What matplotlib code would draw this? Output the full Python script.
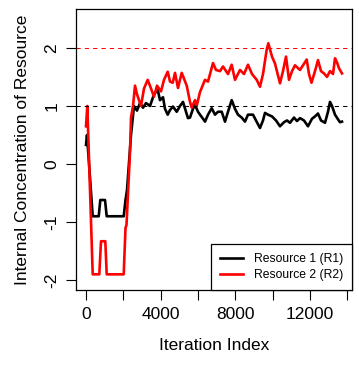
import matplotlib
matplotlib.use("Agg")
import matplotlib.pyplot as plt

# Resource 1 (R1) trace
r1_iter = [0, 54, 359, 680, 766, 1018, 1109, 2020, 2116, 2196, 2287, 2411, 2571,
           2732, 2893, 3053, 3214, 3429, 3643, 3841, 3964, 4125, 4232, 4377, 4500,
           4661, 4859, 5036, 5196, 5357, 5464, 5571, 5732, 5839, 6000, 6107, 6268,
           6375, 6536, 6734, 6911, 7071, 7270, 7446, 7607, 7805, 7982, 8143, 8341,
           8518, 8679, 8946, 9107, 9321, 9482, 9589, 9750, 9964, 10179, 10393, 10607,
           10768, 10928, 11143, 11303, 11464, 11678, 11893, 12107, 12268, 12428,
           12589, 12803, 12964, 13071, 13178, 13339, 13500, 13607, 13714]
r1_conc = [0.33, 0.5, -0.9, -0.9, -0.62, -0.62, -0.9, -0.9, -0.62, -0.45, -0.05,
           0.5, 1.0, 0.92, 1.05, 0.97, 1.05, 1.0, 1.2, 1.28, 1.1, 1.15, 0.95, 0.85,
           0.93, 0.99, 0.9, 1.0, 1.07, 0.9, 0.79, 0.8, 0.95, 1.02, 0.9, 0.85, 0.78,
           0.73, 0.85, 0.96, 0.85, 0.9, 0.9, 0.73, 0.9, 1.1, 0.95, 0.85, 0.8, 0.73,
           0.85, 0.85, 0.75, 0.62, 0.75, 0.88, 0.85, 0.82, 0.75, 0.65, 0.72, 0.75,
           0.71, 0.8, 0.74, 0.79, 0.75, 0.65, 0.78, 0.82, 0.87, 0.75, 0.71, 0.9,
           1.07, 1.0, 0.85, 0.77, 0.72, 0.73]

# Resource 2 (R2) trace
r2_iter = [0, 70, 359, 712, 804, 1034, 1109, 2020, 2116, 2170, 2250, 2357, 2411,
           2518, 2625, 2732, 2946, 3107, 3305, 3482, 3643, 3804, 4018, 4178, 4377,
           4500, 4645, 4768, 4928, 5127, 5395, 5571, 5663, 5839, 5930, 6107, 6375,
           6536, 6803, 6964, 7178, 7339, 7607, 7805, 7982, 8250, 8464, 8679, 8893,
           9145, 9321, 9482, 9680, 9766, 9964, 10125, 10393, 10553, 10714, 10875,
           11036, 11196, 11464, 11625, 11823, 11946, 12080, 12268, 12428, 12589,
           12750, 12911, 13071, 13232, 13339, 13446, 13553, 13714]
r2_conc = [0.65, 1.0, -1.9, -1.9, -1.33, -1.33, -1.9, -1.9, -1.1, -1.05, -0.5, 0.2,
           0.8, 1.0, 1.35, 1.2, 1.0, 1.3, 1.45, 1.3, 1.16, 1.35, 1.25, 1.45, 1.59,
           1.42, 1.4, 1.57, 1.31, 1.57, 1.35, 1.07, 0.97, 1.1, 1.0, 1.24, 1.45, 1.42,
           1.74, 1.62, 1.6, 1.68, 1.55, 1.71, 1.45, 1.62, 1.55, 1.71, 1.55, 1.45,
           1.33, 1.55, 1.97, 2.08, 1.85, 1.73, 1.39, 1.6, 1.85, 1.45, 1.6, 1.7, 1.62,
           1.7, 1.8, 1.55, 1.4, 1.6, 1.79, 1.6, 1.56, 1.5, 1.6, 1.55, 1.82, 1.75,
           1.65, 1.56]

ref_levels = [1, 2]
ref_colors = ["black", "red"]
x_ticks = [0, 2000, 4000, 6000, 8000, 10000, 12000, 14000]
x_labels = ["0", "", "4000", "", "8000", "", "12000", ""]
y_ticks = [-2, -1, 0, 1, 2]

plt.rcParams["font.family"] = ["Liberation Sans", "DejaVu Sans"]

fig = plt.figure(figsize=(3.59, 3.68), dpi=100)
ax = fig.add_axes([76 / 359, 1 - 290 / 368, 276 / 359, 281 / 368])

ax.plot(r1_iter, r1_conc, color="black", lw=1.9, label="Resource 1 (R1)")
ax.plot(r2_iter, r2_conc, color="red", lw=1.9, label="Resource 2 (R2)")
for lvl, col in zip(ref_levels, ref_colors):
    ax.axhline(lvl, color=col, lw=0.75, dashes=(4, 4))

ax.set_xlim(-536, 14250)
ax.set_ylim(-2.17, 2.67)
ax.set_xticks(x_ticks)
ax.set_xticklabels(x_labels)
ax.set_yticks(y_ticks)
ax.set_yticklabels([str(v) for v in y_ticks], rotation=90, va="center")
ax.tick_params(direction="out", length=7, width=0.8, labelsize=12.5, pad=5)
for sp in ax.spines.values():
    sp.set_linewidth(0.9)

ax.set_xlabel("Iteration Index", fontsize=12.5, labelpad=12)
ax.set_ylabel("Internal Concentration of Resource", fontsize=12.5, labelpad=10)

leg = ax.legend(loc="lower right", borderaxespad=0, fancybox=False, fontsize=8.7,
                handlelength=1.95, handletextpad=0.85, framealpha=1,
                borderpad=0.75, labelspacing=0.3)
leg.get_frame().set_edgecolor("black")
leg.get_frame().set_linewidth(0.9)

fig.savefig("out.png", dpi=100)
